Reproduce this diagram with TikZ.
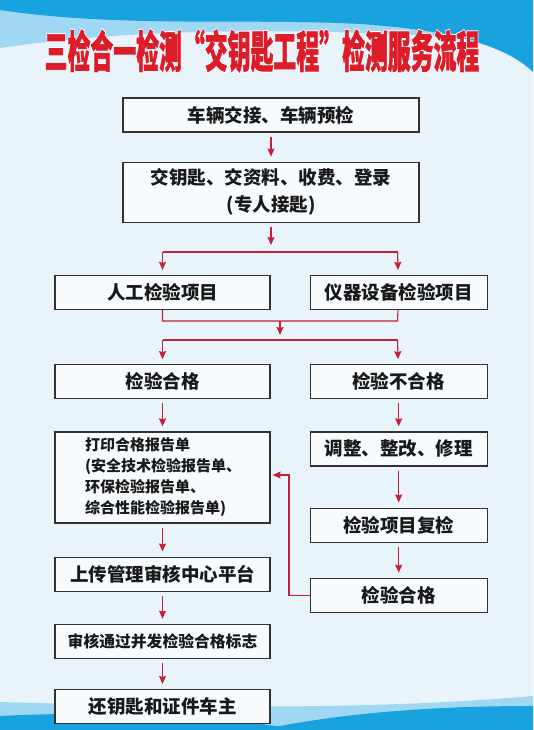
\documentclass[tikz,border=0pt]{standalone}
\usepackage{fontspec}
\setmainfont{Noto Sans CJK SC}
\newfontfamily\titlefont{Noto Sans CJK SC}[BoldFeatures={FakeBold=1.6}]
\newfontfamily\titlerim{Noto Sans CJK SC}[BoldFeatures={FakeBold=6}]
\usepackage{graphicx}
\usetikzlibrary{positioning, arrows.meta, calc}

\definecolor{flowred}{RGB}{196,32,58}
\definecolor{titlered}{RGB}{220,28,40}
\definecolor{boxline}{RGB}{50,50,50}
\definecolor{wavedeep}{RGB}{24,162,222}
\definecolor{wavelight}{RGB}{160,215,242}
\definecolor{paper}{RGB}{232,243,250}

\newcommand{\flowtitle}[1]{\scalebox{0.52}[1]{\fontsize{44}{44}#1\bfseries 三检合一检测“交钥匙工程”检测服务流程}}

\begin{document}
\begin{tikzpicture}[x=1pt, y=1pt,
        % Define block styles
        stepbox/.style={draw=boxline, line width=1.2pt, fill=white!70!paper, rectangle, minimum height=34pt, inner sep=2pt, align=center, text=black!90, font=\fontsize{18.5}{27}\selectfont\bfseries},
        wide/.style={stepbox, minimum width=296pt, text width=280pt},
        leftcol/.style={stepbox, minimum width=215pt},
        rightcol/.style={stepbox, minimum width=177pt},
        flow/.style={draw=flowred, line width=1.1pt, -{Stealth[length=8pt, width=7pt, inset=1pt]}, shorten >=5pt},
        gap/.style={flow, shorten <=4pt},
        link/.style={draw=flowred, line width=1.1pt}
    ]

    % --- Background ---
    \useasboundingbox (0,0) rectangle (533,-730);
    \shade[top color=paper, middle color=white, bottom color=paper] (0,0) rectangle (533,-730);
    \fill[wavelight] (0,0) -- (533,0) -- (533,-45) .. controls (420,-32) and (300,-30) .. (200,-32) .. controls (110,-34) and (40,-42) .. (0,-48) -- cycle;
    \fill[wavedeep] (0,0) -- (533,0) -- (533,-72) .. controls (505,-45) and (450,-30) .. (360,-24) .. controls (250,-18) and (120,-28) .. (0,-10) -- cycle;
    \fill[wavelight] (0,-730) -- (0,-702) .. controls (150,-706) and (350,-712) .. (533,-696) -- (533,-730) -- cycle;
    \fill[wavedeep] (0,-730) -- (0,-716) .. controls (80,-712) and (200,-712) .. (300,-730) -- cycle;
    \fill[wavedeep] (260,-730) .. controls (330,-715) and (420,-706) .. (533,-706) -- (533,-730) -- cycle;

    % --- Title: white rim under the red text ---
    \node[text=white] (title_rim) at (262,-51) {\flowtitle{\titlerim}};
    \node[text=titlered] (title) at (262,-51) {\flowtitle{\titlefont}};

    % --- Nodes Placement ---
    \node[wide] (handover) at (271,-115) {车辆交接、车辆预检};
    \node[wide, below=29pt of handover, minimum height=60pt] (keys) {交钥匙、交资料、收费、登录\\(专人接匙)};

    \node[leftcol] (manual) at (162.5,-292.5) {人工检验项目};
    \node[rightcol, right=39pt of manual] (device) {仪器设备检验项目};

    \node[leftcol, below=54pt of manual] (pass) {检验合格};
    \node[rightcol, below=54pt of device] (fail) {检验不合格};

    % Left column
    \node[leftcol, below=32pt of pass, minimum height=91pt, text width=155pt, inner xsep=30pt, align=left, font=\fontsize{15}{21}\selectfont\bfseries] (report) {打印合格报告单\\(安全技术检验报告单、\\环保检验报告单、\\综合性能检验报告单)};
    \node[leftcol, below=33pt of report] (upload) {上传管理审核中心平台};
    \node[leftcol, below=32pt of upload, font=\fontsize{15.8}{21}\selectfont\bfseries] (approve) {审核通过并发检验合格标志};
    \node[leftcol, below=30pt of approve] (giveback) {还钥匙和证件车主};

    % Right column
    \node[rightcol, below=32pt of fail] (repair) {调整、整改、修理};
    \node[rightcol, below=41pt of repair] (recheck) {检验项目复检};
    \node[rightcol, below=35pt of recheck] (repass) {检验合格};

    % Junction points of the split and merge bars
    \coordinate (split_mid) at (271,-252);
    \coordinate (split_l) at (162.5,-252);
    \coordinate (split_r) at (397.5,-252);
    \coordinate (merge_l) at (162.5,-321);
    \coordinate (merge_r) at (397.5,-321);
    \coordinate (merge_mid) at (280,-321);
    \coordinate (dist_mid) at (280,-340);
    \coordinate (dist_l) at (162.5,-340);
    \coordinate (dist_r) at (397.5,-340);
    \coordinate (loop_turn) at (289,-475);

    % --- Connections / Arrows ---
    \draw[gap] (handover) -- (keys);
    \draw[flow, shorten <=4pt, shorten >=7pt] (keys) -- (split_mid);
    \draw[link] (split_l) -- (split_r);
    \draw[flow] (split_l) -- (manual);
    \draw[flow] (split_r) -- (device);

    \draw[link] (manual) -- (merge_l) -- (merge_r) -- (device);
    \draw[flow] (merge_mid) -- (dist_mid);
    \draw[link] (dist_l) -- (dist_r);
    \draw[flow] (dist_l) -- (pass);
    \draw[flow] (dist_r) -- (fail);

    \draw[gap] (pass) -- (report);
    \draw[gap] (report) -- (upload);
    \draw[gap] (upload) -- (approve);
    \draw[gap] (approve) -- (giveback);

    \draw[gap] (fail) -- (repair);
    \draw[gap] (repair) -- (recheck);
    \draw[gap] (recheck) -- (repass);

    % Re-check passed: back to the report box
    \draw[flow, shorten >=2pt] (repass.west) -| (loop_turn) -- (loop_turn -| report.east);

\end{tikzpicture}
\end{document}
